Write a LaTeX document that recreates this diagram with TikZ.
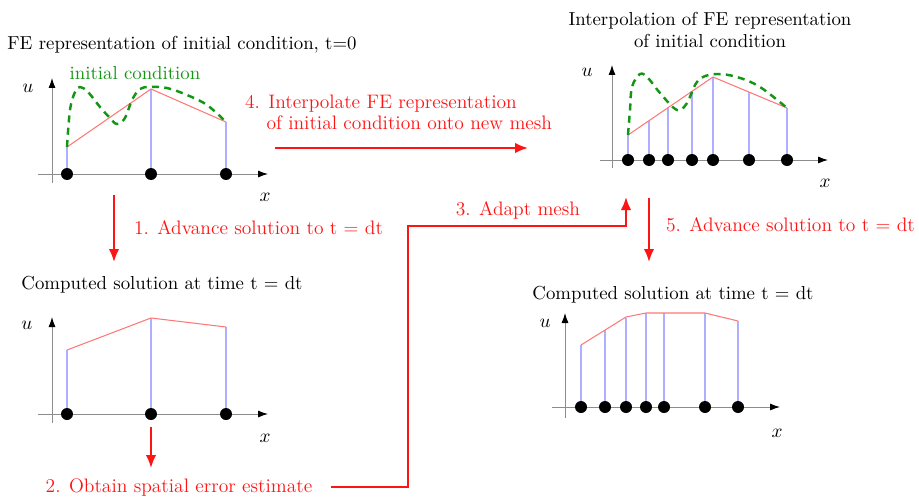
\documentclass[tikz,border=0pt]{standalone}
\usetikzlibrary{arrows.meta}
\definecolor{flowred}{RGB}{255,20,20}
\definecolor{fered}{RGB}{255,120,120}
\definecolor{meshblue}{RGB}{175,175,255}
\definecolor{icgreen}{RGB}{20,150,20}
\begin{document}
\begin{tikzpicture}[x=0.02cm, y=-0.02cm, >=latex,
  every node/.style={font=\fontsize{10.7}{12}\selectfont},
  axis/.style={draw=black!45, line width=0.5pt, -{Latex[length=2mm,width=1.4mm,color=black]}},
  flow/.style={draw=flowred, line width=1.1pt, -{Latex[length=2.6mm,width=2.1mm]}},
  steplabel/.style={text=flowred, inner sep=1pt, font=\fontsize{11.1}{12}\selectfont},
  title/.style={align=center, inner sep=1pt},
  feline/.style={draw=fered, line width=0.6pt},
  meshline/.style={draw=meshblue, line width=0.6pt},
  icline/.style={draw=icgreen, line width=1.4pt, dash pattern=on 4pt off 3pt},
  dot/.style={circle, fill=black, inner sep=0pt, minimum size=2.4mm}]
\useasboundingbox (0,0) rectangle (919,497);

\node[title] (title1) at (182,45) {FE representation of initial condition, t=0};
\node[title] (title2) at (162,285) {Computed solution at time t = dt};
\node[title] (title3) at (710,30) {Interpolation of FE representation\\of initial condition};
\node[title] (title4) at (673,295) {Computed solution at time t = dt};
\node[text=icgreen, inner sep=1pt] (iclabel) at (135,73) {initial condition};

\draw[axis] (38,174) -- (268,174);
\draw[axis] (52,183) -- (52,78);
\node (u1) at (28,88) {$u$};
\node (x1) at (265,197) {$x$};
\draw[meshline] (67,174) -- (67,147);
\draw[meshline] (151,174) -- (151,89);
\draw[meshline] (226,174) -- (226,122);
\draw[feline] (67,147) -- (151,89) -- (226,122);
\draw[icline] plot[smooth, tension=0.6] coordinates {(67,147) (70,110) (75,92) (80,87) (88,92) (100,107) (110,118) (117,124) (125,118) (132,100) (140,89) (150,87) (167,88) (187,95) (207,105) (226,122)};
\node[dot] (a1) at (67,174) {};
\node[dot] (a2) at (151,174) {};
\node[dot] (a3) at (226,174) {};

\draw[axis] (38,414) -- (268,414);
\draw[axis] (52,423) -- (52,317);
\node (u2) at (27,325) {$u$};
\node (x2) at (265,438) {$x$};
\draw[meshline] (67,414) -- (67,350);
\draw[meshline] (151,414) -- (151,318);
\draw[meshline] (226,414) -- (226,327);
\draw[feline] (67,350) -- (151,318) -- (226,327);
\node[dot] (b1) at (67,414) {};
\node[dot] (b2) at (151,414) {};
\node[dot] (b3) at (226,414) {};

\draw[axis] (600,160) -- (828,160);
\draw[axis] (612,168) -- (612,65);
\node (u3) at (587,72) {$u$};
\node (x3) at (825,183) {$x$};
\foreach \px/\py in {628/135, 649/121, 668/108, 692/91, 713/77, 749/92, 787/108}
  \draw[meshline] (\px,160) -- (\px,\py);
\draw[feline] (628,135) -- (713,77) -- (787,108);
\draw[icline] plot[smooth, tension=0.6] coordinates {(628,135) (630,110) (632,87) (640,74) (648,78) (660,93) (677,110) (687,103) (695,85) (703,77) (717,74) (737,77) (760,87) (787,108)};
\node[dot] (c1) at (628,160) {};
\node[dot] (c2) at (649,160) {};
\node[dot] (c3) at (668,160) {};
\node[dot] (c4) at (692,160) {};
\node[dot] (c5) at (713,160) {};
\node[dot] (c6) at (749,160) {};
\node[dot] (c7) at (787,160) {};

\draw[axis] (552,407) -- (780,407);
\draw[axis] (565,418) -- (565,313);
\node (u4) at (545,323) {$u$};
\node (x4) at (777,433) {$x$};
\foreach \px/\py in {581/345, 605/330, 626/318, 646/313, 664/313, 705/313, 738/321}
  \draw[meshline] (\px,407) -- (\px,\py);
\draw[feline] (581,345) -- (626,317) -- (646,313) -- (705,313) -- (738,321);
\node[dot] (d1) at (581,407) {};
\node[dot] (d2) at (605,407) {};
\node[dot] (d3) at (626,407) {};
\node[dot] (d4) at (646,407) {};
\node[dot] (d5) at (664,407) {};
\node[dot] (d6) at (705,407) {};
\node[dot] (d7) at (738,407) {};

\coordinate (s1) at (114,195);
\coordinate (e1) at (114,262);
\coordinate (s2) at (151,427);
\coordinate (e2) at (151,468);
\coordinate (s3) at (331,487);
\coordinate (k3) at (408,226);
\coordinate (e3) at (626,197);
\coordinate (s4) at (275,148);
\coordinate (e4) at (528,148);
\coordinate (s5) at (649,198);
\coordinate (e5) at (649,262);

\draw[flow] (s1) -- (e1);
\draw[flow] (s2) -- (e2);
\draw[flow] (s3) -| (k3) -| (e3);
\draw[flow] (s4) -- (e4);
\draw[flow] (s5) -- (e5);

\node[steplabel, anchor=west] (step1) at (132,228) {1. Advance solution to t = dt};
\node[steplabel] (step2) at (179,488) {2. Obtain spatial error estimate};
\node[steplabel] (step3) at (518,210) {3. Adapt mesh};
\node[steplabel, anchor=west, align=left] (step4) at (243,112) {4. Interpolate FE representation\\\hspace*{1.1em}of initial condition onto new mesh};
\node[steplabel, anchor=east] (step5) at (917,225) {5. Advance solution to t = dt};
\end{tikzpicture}
\end{document}
